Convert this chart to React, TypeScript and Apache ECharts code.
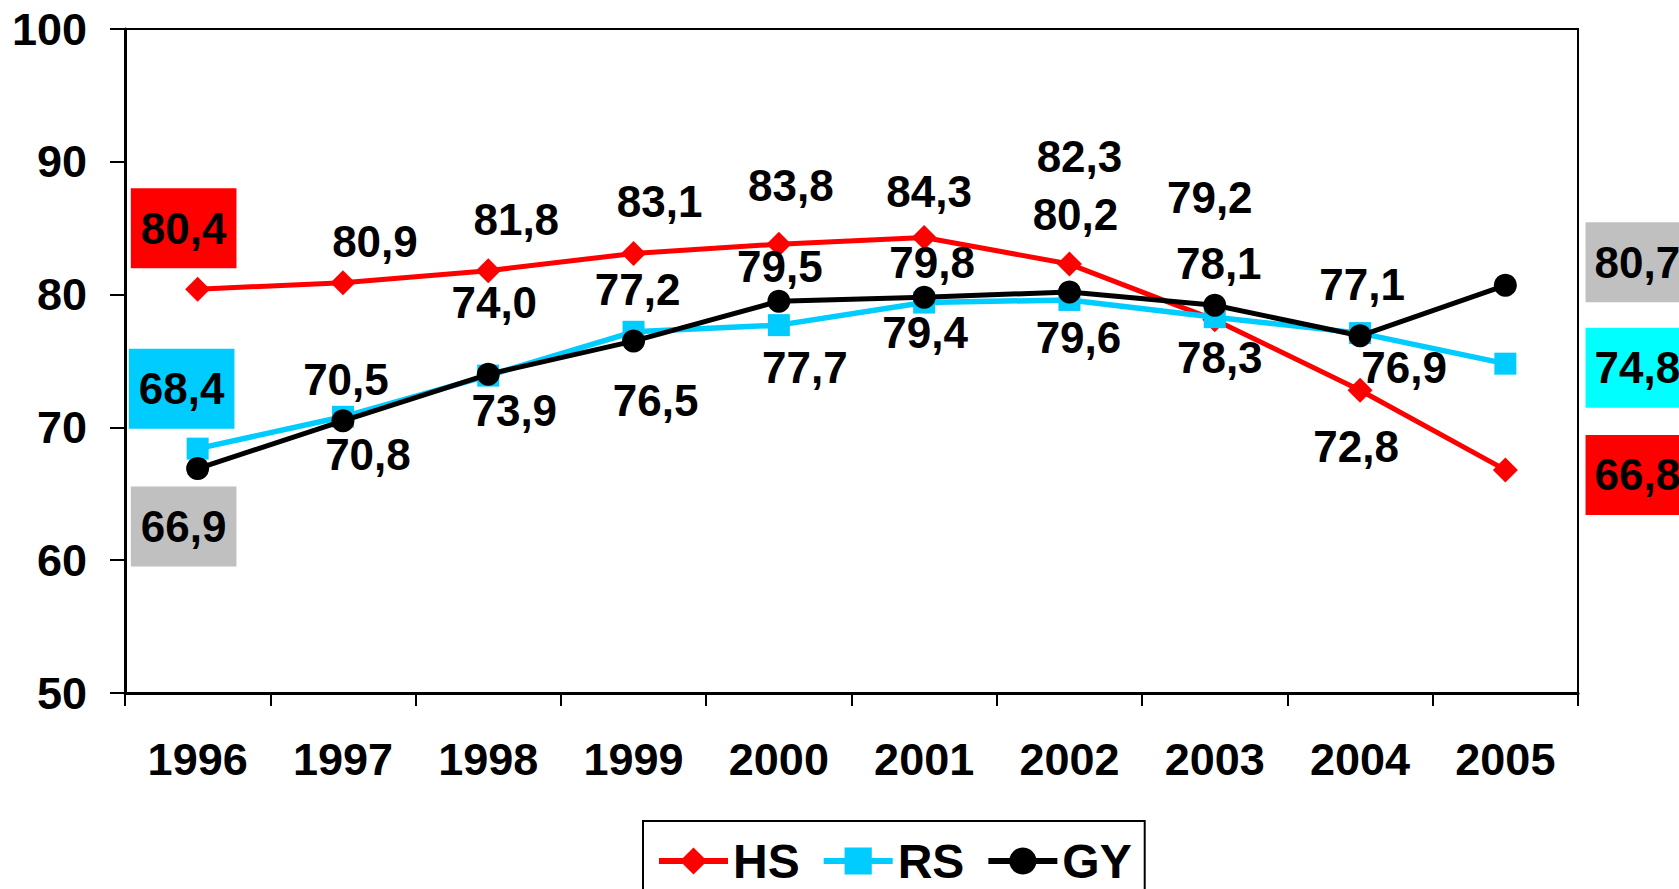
import React, { useEffect, useRef } from "react";
import * as echarts from "echarts";

const years = ["1996", "1997", "1998", "1999", "2000", "2001", "2002", "2003", "2004", "2005"];
const hsValues = [80.4, 80.9, 81.8, 83.1, 83.8, 84.3, 82.3, 78.1, 72.8, 66.8];
const rsValues = [68.4, 70.8, 73.9, 77.2, 77.7, 79.4, 79.6, 78.3, 77.1, 74.8];
const gyValues = [66.9, 70.5, 74.0, 76.5, 79.5, 79.8, 80.2, 79.2, 76.9, 80.7];

// label offsets (pixels) relative to each point
const hsOffsets: number[][] = [[-14, -61], [32, -41], [28, -51], [26, -52], [12, -59], [5, -46], [10, -108], [4, -56], [-4, 56], [132, 5]];
const rsOffsets: number[][] = [[-16, -60], [25, 38], [26, 35], [4, -42], [26, 42], [1, 30], [9, 38], [5, 40], [2, -49], [132, 4]];
const gyOffsets: number[][] = [[-14, 58], [3, -41], [6, -72], [22, 59], [1, -35], [8, -35], [6, -77], [-5, -108], [44, 32], [132, -23]];

const FONT = "'Liberation Sans', Arial, Helvetica, sans-serif";

const fmt = (v: number) => v.toFixed(1).replace(".", ",");

function buildData(values: number[], offsets: number[][], boxFirst: string, boxLast: string) {
  return values.map((v, i) => {
    const label: any = { offset: offsets[i] };
    if (i === 0) {
      label.backgroundColor = boxFirst;
      label.padding = [18, 10];
    } else if (i === values.length - 1) {
      label.backgroundColor = boxLast;
      label.padding = [18, 9];
    }
    return { value: v, label };
  });
}

export default function App() {
  const ref = useRef<HTMLDivElement>(null);
  useEffect(() => {
    if (!ref.current) return;
    const chart = echarts.init(ref.current, null, { renderer: "svg" });
    const labelBase = {
      show: true,
      position: "inside",
      fontSize: 44,
      fontWeight: "bold",
      fontFamily: FONT,
      color: "#000",
      formatter: (p: any) => fmt(p.value),
    };
    chart.setOption({
      animation: false,
      backgroundColor: "#fff",
      grid: {
        left: 125,
        top: 29,
        right: 101,
        bottom: 196,
        show: true,
        borderColor: "#000",
        borderWidth: 2,
        containLabel: false,
      },
      legend: {
        data: ["HS", "RS", "GY"],
        left: 643,
        top: 821,
        orient: "horizontal",
        itemWidth: 69,
        itemHeight: 34,
        itemGap: 21,
        padding: [16, 13, 16, 13],
        borderColor: "#000",
        borderWidth: 2,
        lineStyle: { width: 6 },
        textStyle: { fontSize: 48, fontWeight: "bold", fontFamily: FONT, color: "#000" },
      },
      xAxis: {
        type: "category",
        data: years,
        boundaryGap: true,
        axisLine: { show: true, lineStyle: { color: "#000", width: 3 } },
        axisTick: { show: true, length: 13, lineStyle: { color: "#000", width: 2 } },
        axisLabel: {
          interval: 0,
          margin: 44,
          fontSize: 45,
          fontWeight: "bold",
          fontFamily: FONT,
          color: "#000",
        },
        splitLine: { show: false },
      },
      yAxis: {
        type: "value",
        min: 50,
        max: 100,
        interval: 10,
        axisLine: { show: true, lineStyle: { color: "#000", width: 3 } },
        axisTick: { show: true, length: 15, lineStyle: { color: "#000", width: 2 } },
        axisLabel: {
          margin: 38,
          fontSize: 45,
          fontWeight: "bold",
          fontFamily: FONT,
          color: "#000",
        },
        splitLine: { show: false },
      },
      series: [
        {
          name: "HS",
          type: "line",
          data: buildData(hsValues, hsOffsets, "#FF0000", "#FF0000"),
          symbol: "diamond",
          symbolSize: 25,
          itemStyle: { color: "#FF0000" },
          lineStyle: { color: "#FF0000", width: 5 },
          label: labelBase,
          z: 2,
        },
        {
          name: "RS",
          type: "line",
          data: buildData(rsValues, rsOffsets, "#00CCFF", "#00FFFF"),
          symbol: "rect",
          symbolSize: 22,
          itemStyle: { color: "#00CCFF" },
          lineStyle: { color: "#00CCFF", width: 5.5 },
          label: labelBase,
          z: 3,
        },
        {
          name: "GY",
          type: "line",
          data: buildData(gyValues, gyOffsets, "#C0C0C0", "#C0C0C0"),
          symbol: "circle",
          symbolSize: 23,
          itemStyle: { color: "#000" },
          lineStyle: { color: "#000", width: 5 },
          label: labelBase,
          z: 4,
        },
      ],
    });
    return () => chart.dispose();
  }, []);
  return (
    <div
      ref={ref}
      style={{ position: "fixed", left: 0, top: 0, width: 1679, height: 889, background: "#fff" }}
    />
  );
}
